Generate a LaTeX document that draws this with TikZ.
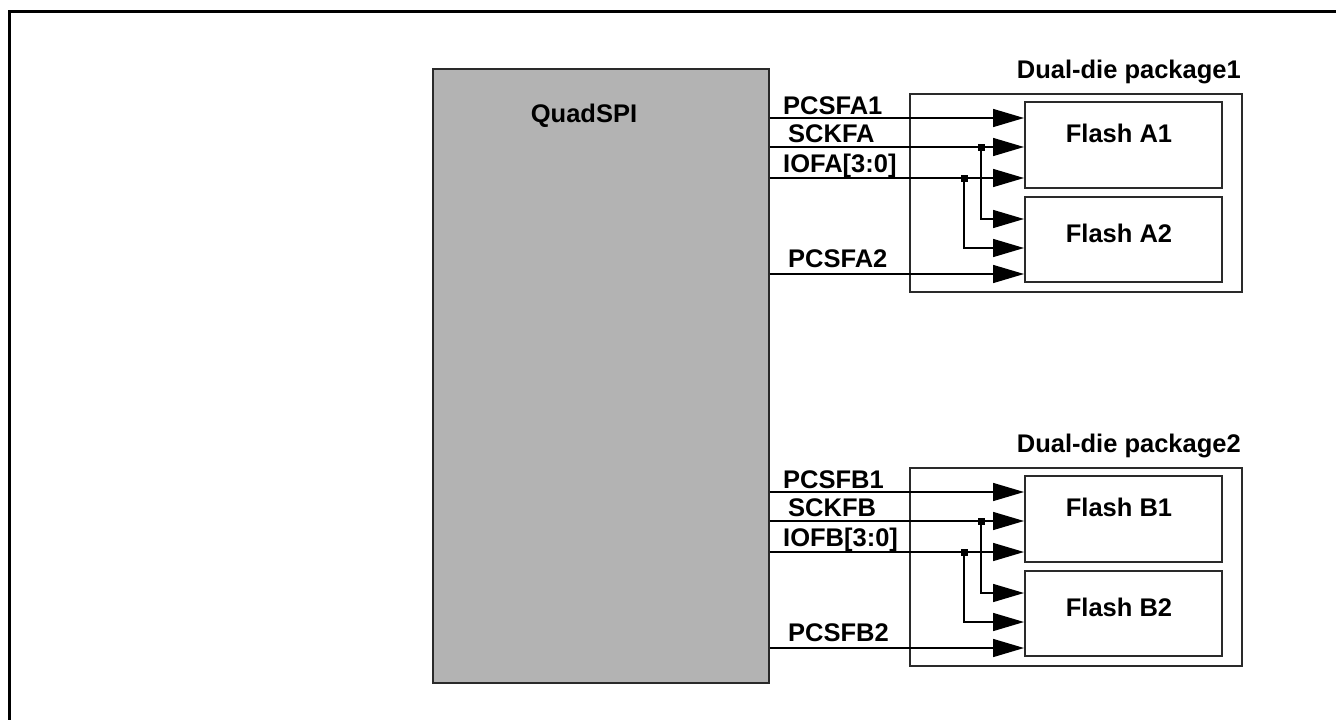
\documentclass[tikz,border=0pt]{standalone}
\usepackage{fontspec}
\setmainfont{Liberation Sans}
\usetikzlibrary{arrows.meta}
\definecolor{qgray}{HTML}{B3B3B3}
\definecolor{edge}{HTML}{2A2A2A}
\begin{document}
\begin{tikzpicture}[x=1pt,y=-1pt,
  lbl/.style={font=\fontsize{25.5}{29}\selectfont\bfseries, inner sep=0pt},
  boxs/.style={draw=edge, line width=1.6pt, inner sep=0pt, anchor=north west},
  sig/.style={line width=1.5pt, -{Triangle[length=31pt,width=18pt]}},
  jdot/.style={fill=black, rectangle, minimum size=7pt, inner sep=0pt}]
\useasboundingbox (0,0) rectangle (1336,720);
\draw[line width=3pt] (9,721) -- (9,11) -- (1337,11);
\node[boxs, fill=qgray, minimum width=336pt, minimum height=614pt] (q) at (432,68) {};
\node[lbl, anchor=base] (ql) at (584,122) {QuadSPI};
\foreach \L/\dy/\n in {A/0/1,B/374/2}{
  \begin{scope}[shift={(0,\dy)}]
    \node[boxs, minimum width=332pt, minimum height=198pt] (pk\L) at (909,93) {};
    \node[lbl, anchor=base east] (pkl\L) at (1241,78) {Dual-die package\n};
    \node[boxs, minimum width=197pt, minimum height=86pt] (f\L1) at (1024,101) {};
    \node[boxs, minimum width=197pt, minimum height=85pt] (f\L2) at (1024,196) {};
    \node[lbl, anchor=base] (fl\L1) at (1119,142) {Flash \L1};
    \node[lbl, anchor=base] (fl\L2) at (1119,242) {Flash \L2};
    \node[jdot] (ja\L) at (981,147) {};
    \node[jdot] (jb\L) at (964,178) {};
    \draw[sig] (q.east |- 0,118) -- (f\L1.west |- 0,118);
    \draw[sig] (q.east |- 0,147) -- (f\L1.west |- 0,147);
    \draw[sig] (q.east |- 0,178) -- (f\L1.west |- 0,178);
    \draw[sig] (ja\L.center) |- (f\L2.west |- 0,219);
    \draw[sig] (jb\L.center) |- (f\L2.west |- 0,248);
    \draw[sig] (q.east |- 0,274) -- (f\L2.west |- 0,274);
    \node[jdot] at (ja\L) {};
    \node[jdot] at (jb\L) {};
    \node[lbl, anchor=base west] (s1\L) at (783,114) {PCSF\L1};
    \node[lbl, anchor=base west] (s2\L) at (788,142) {SCKF\L};
    \node[lbl, anchor=base west] (s3\L) at (783,172) {IOF\L[3:0]};
    \node[lbl, anchor=base west] (s4\L) at (788,267) {PCSF\L2};
  \end{scope}
}
\end{tikzpicture}
\end{document}
